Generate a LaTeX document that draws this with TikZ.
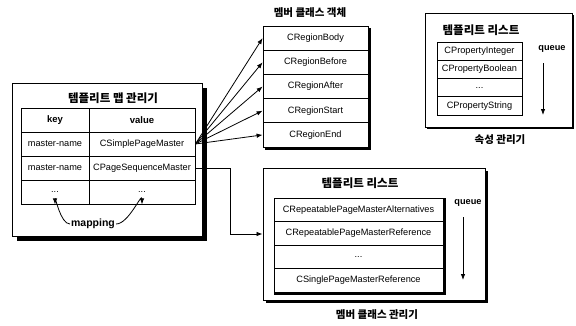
\documentclass[tikz,border=0pt]{standalone}
\usepackage{fontspec}
\setmainfont{Liberation Sans}
\newfontfamily\kr{Noto Sans CJK KR}
\usetikzlibrary{arrows.meta,shadows,backgrounds}
\begin{document}
\begin{tikzpicture}[x=1pt,y=-1pt,
  box/.style={draw, line width=1pt, fill=white, inner sep=0pt},
  bigshadow/.style={drop shadow={shadow xshift=5pt, shadow yshift=-5pt, fill=black, opacity=1}},
  smallshadow/.style={drop shadow={shadow xshift=2pt, shadow yshift=-2pt, fill=black, opacity=1}},
  cell/.style={draw, line width=0.8pt, fill=white, inner sep=0pt, font=\fontsize{9.2}{10}\selectfont},
  head/.style={cell, font=\bfseries\fontsize{9.5}{10}\selectfont},
  title/.style={font=\kr\bfseries\fontsize{11.5}{13}\selectfont, inner sep=0pt},
  stitle/.style={font=\kr\bfseries\fontsize{10.5}{12}\selectfont, inner sep=0pt},
  lbl/.style={font=\bfseries\fontsize{9.2}{10}\selectfont, inner sep=0pt},
  arr/.style={line width=0.8pt, -{Latex[length=6pt,width=4.5pt]}}
]
\useasboundingbox (0,0) rectangle (576,325);

% ---------- left: template map manager ----------
\node[box, bigshadow, minimum width=190, minimum height=153] (mapmgr) at (107,159.5) {};
\node[title] (maptitle) at (113,98) {템플리트 맵 관리기};
\begin{scope}[every node/.append style={minimum height=24}]
\node[head, minimum width=68] (k1) at (55,120) {key};
\node[head, minimum width=106] (v1) at (142,120) {value};
\node[cell, minimum width=68] (k2) at (55,144) {master-name};
\node[cell, minimum width=106] (v2) at (142,144) {CSimplePageMaster};
\node[cell, minimum width=68] (k3) at (55,168) {master-name};
\node[cell, minimum width=106] (v3) at (142,168) {CPageSequenceMaster};
\node[cell, minimum width=68] (k4) at (55,192) {...};
\node[cell, minimum width=106] (v4) at (142,192) {...};
\end{scope}
\node[font=\bfseries\fontsize{10.5}{12}\selectfont, inner sep=1pt] (map) at (93,224) {mapping};
\draw[arr] (map.west) to[out=180,in=90] (k4.south);
\draw[arr] (map.east) to[out=0,in=90] (v4.south);

% ---------- member class objects ----------
\node[stitle] (memtitle) at (310,13) {멤버 클래스 객체};
\begin{scope}[every node/.append style={minimum width=105, minimum height=24.2}]
\node[cell] (m1) at (315.5,38.1) {CRegionBody};
\node[cell] (m2) at (315.5,62.3) {CRegionBefore};
\node[cell] (m3) at (315.5,86.5) {CRegionAfter};
\node[cell] (m4) at (315.5,110.7) {CRegionStart};
\node[cell] (m5) at (315.5,134.9) {CRegionEnd};
\end{scope}
\begin{scope}[on background layer]
\fill ([xshift=2.5pt,yshift=-2.5pt]m5.south west) rectangle ([xshift=2.5pt,yshift=-2.5pt]m1.north east);
\end{scope}
\foreach \m in {m1,m2,m3,m4,m5} \draw[arr] (v2.east) -- (\m.west);

% ---------- top right: property manager ----------
\node[box, smallshadow, line width=0.9pt, minimum width=147, minimum height=114] (propbox) at (498.5,70) {};
\node[title] (proptitle) at (481,30) {템플리트 리스트};
\begin{scope}[every node/.append style={minimum width=85, minimum height=18.25}]
\node[cell] (p1) at (479.5,51.1) {CPropertyInteger};
\node[cell] (p2) at (479.5,69.4) {CPropertyBoolean};
\node[cell] (p3) at (479.5,87.6) {...};
\node[cell] (p4) at (479.5,105.9) {CPropertyString};
\end{scope}
\node[lbl] (q1) at (552,49) {queue};
\coordinate (q1s) at (543,63);
\coordinate (q1e) at (543,115);
\draw[arr] (q1s) -- (q1e);
\node[stitle] (propcap) at (500,140) {속성 관리기};

% ---------- bottom: member class manager ----------
\node[box, drop shadow={shadow xshift=3pt, shadow yshift=-3pt, fill=black, opacity=1}, minimum width=222, minimum height=132] (tmgr) at (374,234) {};
\node[title] (ttitle) at (360,183) {템플리트 리스트};
\begin{scope}[every node/.append style={minimum width=169, minimum height=23.5}]
\node[cell] (t1) at (358.5,209.75) {CRepeatablePageMasterAlternatives};
\node[cell] (t2) at (358.5,233.25) {CRepeatablePageMasterReference};
\node[cell] (t3) at (358.5,256.75) {...};
\node[cell] (t4) at (358.5,280.25) {CSinglePageMasterReference};
\end{scope}
\fill ([xshift=0.4pt,yshift=-0.4pt]t4.south west) rectangle ([xshift=3pt,yshift=-3pt]t4.south east);
\fill ([xshift=0.4pt,yshift=0pt]t1.north east) rectangle ([xshift=3pt,yshift=-3pt]t4.south east);
\node[lbl] (q2) at (468,203) {queue};
\coordinate (q2s) at (463,217);
\coordinate (q2e) at (463,280);
\draw[arr] (q2s) -- (q2e);
\node[stitle] (tcap) at (377,315) {멤버 클래스 관리기};

\draw[arr] (v3.east) -- ++(35,0) |- (tmgr.west);
\end{tikzpicture}
\end{document}
